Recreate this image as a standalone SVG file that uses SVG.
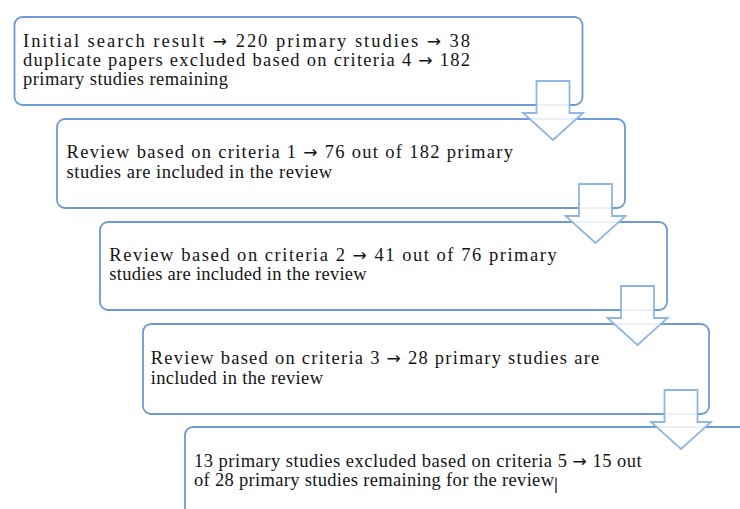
<svg xmlns="http://www.w3.org/2000/svg" xmlns:xlink="http://www.w3.org/1999/xlink" width="740" height="509" viewBox="0 0 740 509">
<style>
.box{fill:#fff;stroke:#6b9bd6;stroke-width:1.8}
.arr{fill:#fff;fill-opacity:0.85;stroke:#8fb6e4;stroke-width:1.8;stroke-linejoin:miter}
.t{font-family:"Liberation Serif","Times New Roman",serif;font-size:18.5px;fill:#141414}
.a{font-family:"DejaVu Sans",sans-serif;font-size:17px}
</style>
<defs>
<path id="arrow" d="M-16.5,-24 H16.5 V8 H30 L0,35 L-30,8 H-16.5 Z"/>
</defs>
<rect width="740" height="509" fill="#fff"/>
<g id="n1">
<rect class="box" x="14.5" y="17" width="568" height="88" rx="8"/>
<text class="t" x="23" y="47" textLength="447" lengthAdjust="spacing">Initial search result  <tspan class="a">→</tspan> 220 primary studies <tspan class="a">→</tspan> 38</text>
<text class="t" x="23" y="66" textLength="447" lengthAdjust="spacing">duplicate papers excluded based on criteria 4 <tspan class="a">→</tspan> 182</text>
<text class="t" x="23" y="85" textLength="205" lengthAdjust="spacing">primary studies remaining</text>
</g>
<g id="n2">
<rect class="box" x="57" y="119" width="568" height="89" rx="8"/>
<text class="t" x="66.5" y="158" textLength="446.5" lengthAdjust="spacing">Review based on criteria 1 <tspan class="a">→</tspan> 76 out of 182 primary</text>
<text class="t" x="66.5" y="177.5" textLength="265.5" lengthAdjust="spacing">studies  are included in the review</text>
</g>
<g id="n3">
<rect class="box" x="100" y="222" width="567" height="88" rx="8"/>
<text class="t" x="109.3" y="261" textLength="447.4" lengthAdjust="spacing">Review based on criteria 2 <tspan class="a">→</tspan>  41 out of 76 primary</text>
<text class="t" x="109.3" y="280" textLength="257.4" lengthAdjust="spacing">studies are included in the review</text>
</g>
<g id="n4">
<rect class="box" x="143" y="324" width="566" height="90" rx="8"/>
<text class="t" x="150.7" y="364" textLength="448.6" lengthAdjust="spacing">Review based on criteria 3 <tspan class="a">→</tspan> 28 primary studies are</text>
<text class="t" x="150.7" y="384" textLength="172.3" lengthAdjust="spacing">included in the review</text>
</g>
<g id="n5">
<rect class="box" x="185" y="427" width="620" height="120" rx="8"/>
<text class="t" x="194" y="466.5" textLength="447.7" lengthAdjust="spacing">13 primary studies excluded based on criteria 5 <tspan class="a">→</tspan> 15 out</text>
<text class="t" x="194" y="485.5" textLength="360" lengthAdjust="spacing">of 28 primary studies remaining for the review</text>
<line x1="556" y1="477.5" x2="556" y2="493" stroke="#111" stroke-width="1.2"/>
</g>
<g id="connectors">
<use xlink:href="#arrow" class="arr" transform="translate(553,105)"/>
<use xlink:href="#arrow" class="arr" transform="translate(595.5,208)"/>
<use xlink:href="#arrow" class="arr" transform="translate(637.5,310)"/>
<use xlink:href="#arrow" class="arr" transform="translate(681,414)"/>
</g>
</svg>
